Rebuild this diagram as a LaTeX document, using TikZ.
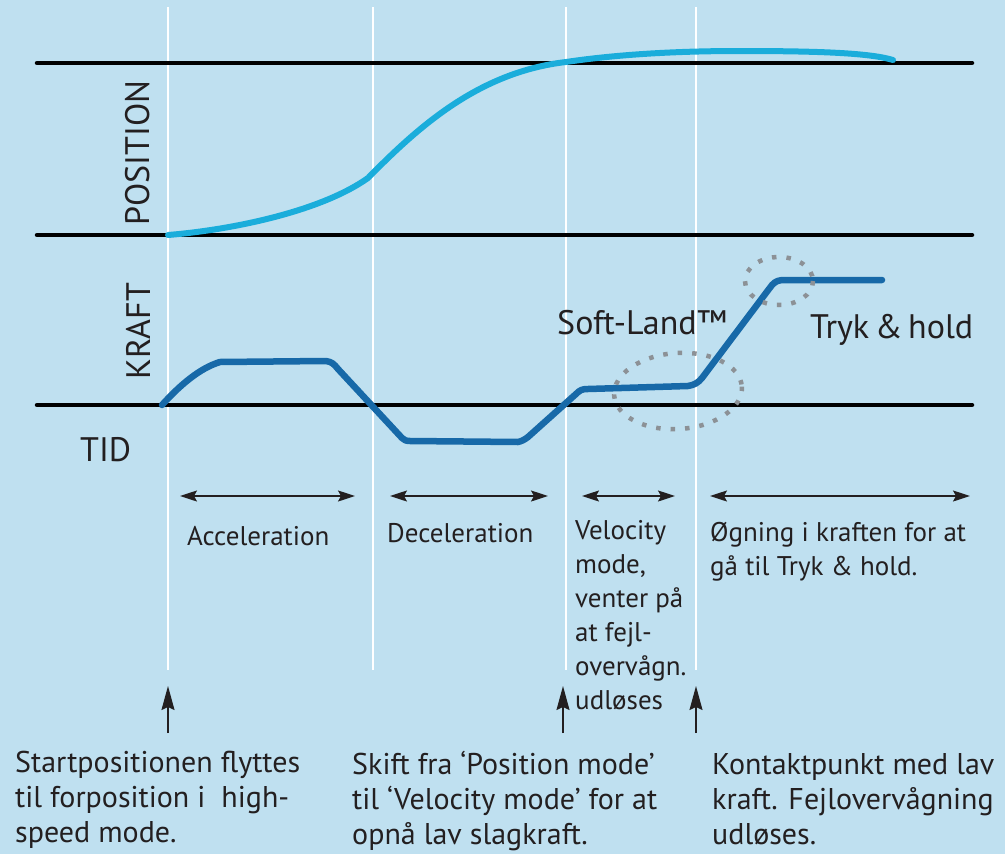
\documentclass[tikz,border=0pt]{standalone}
\usepackage{fontspec}
\setmainfont{PT Sans}
\usetikzlibrary{arrows.meta}

\definecolor{bg}{HTML}{BFE0F0}
\definecolor{poscurve}{HTML}{1AADDB}
\definecolor{forcecurve}{HTML}{1769A8}
\definecolor{ink}{HTML}{231F20}
\definecolor{ringgray}{HTML}{8C9196}

\tikzset{
  axisline/.style={line width=4.5pt, black, line cap=round},
  guide/.style={line width=1.8pt, white},
  poscurvestyle/.style={line width=6pt, poscurve, line cap=round, line join=round},
  forcecurvestyle/.style={line width=6.5pt, forcecurve, line cap=round, line join=round},
  ring/.style={line width=4.5pt, ringgray, dash pattern=on 4.5pt off 10pt},
  span/.style={line width=1.5pt, ink, {Stealth[length=17pt,width=11pt,inset=3pt]}-{Stealth[length=17pt,width=11pt,inset=3pt]}},
  uparrow/.style={line width=1.5pt, ink, -{Stealth[length=24pt,width=13pt,inset=3pt]}},
  biglabel/.style={inner sep=0pt, text=ink, font=\fontsize{34}{40}\selectfont},
  phase/.style={inner sep=0pt, text=ink, align=left, font=\fontsize{27}{34}\selectfont},
  note/.style={inner sep=0pt, text=ink, align=left, font=\fontsize{30}{35}\selectfont},
}

\begin{document}
\begin{tikzpicture}[x=1pt, y=-1pt]
  % background
  \fill[bg] (0,0) rectangle (1005,854);
  \useasboundingbox (0,0) rectangle (1005,854);

  % vertical time markers
  \foreach \gx in {168, 373, 566, 696} {
    \draw[guide] (\gx,7) -- (\gx,670);
  }

  % axes
  \draw[axisline] (37,63) -- (972,63);
  \draw[axisline] (37,235) -- (972,235);
  \draw[axisline] (37,405) -- (972,405);

  % position curve
  \draw[poscurvestyle] (168,235)
    .. controls (230,230) and (320,212) .. (368,178)
    .. controls (420,125) and (480,72) .. (566,62)
    .. controls (620,54) and (680,51) .. (740,51)
    .. controls (820,51) and (870,53) .. (893,60);

  % force curve
  \draw[forcecurvestyle] (162,405)
    .. controls (180,385) and (200,368) .. (220,362)
    -- (326,361)
    .. controls (332,362) and (334,364) .. (338,369)
    -- (402,438)
    .. controls (404,440) and (406,441) .. (410,441)
    -- (518,442)
    .. controls (522,441) and (524,440) .. (528,437)
    -- (576,394)
    .. controls (580,390) and (582,389) .. (588,389)
    -- (688,386)
    .. controls (694,385) and (698,383) .. (702,378)
    -- (772,285)
    .. controls (776,281) and (778,280) .. (786,280)
    -- (882,280);

  % highlighted regions
  \draw[ring, rotate around={4:(678,391)}] (678,391) ellipse [x radius=64, y radius=38];
  \draw[ring] (779,281) ellipse [x radius=34, y radius=24];

  % axis labels
  \node[biglabel, rotate=90] (lblpos) at (138,153) {POSITION};
  \node[biglabel, rotate=90] (lblkraft) at (138,331) {KRAFT};
  \node[biglabel, anchor=base west] (lbltid) at (80,461) {TID};
  \node[biglabel, anchor=base west] (lblsoft) at (557,334) {Soft-Land™};
  \node[biglabel, anchor=base west] (lbltryk) at (810,338) {Tryk\,\&\,hold};

  % phase spans
  \coordinate (s1a) at (180,496); \coordinate (s1b) at (355,496);
  \coordinate (s2a) at (390,496); \coordinate (s2b) at (548,496);
  \coordinate (s3a) at (582,496); \coordinate (s3b) at (675,496);
  \coordinate (s4a) at (710,496); \coordinate (s4b) at (970,496);
  \draw[span] (s1a) -- (s1b);
  \draw[span] (s2a) -- (s2b);
  \draw[span] (s3a) -- (s3b);
  \draw[span] (s4a) -- (s4b);

  % phase descriptions
  \node[phase, anchor=north west] (ph1) at (187,526) {Acceleration};
  \node[phase, anchor=north west] (ph2) at (387,523) {Deceleration};
  \node[phase, anchor=north west] (ph3) at (575,520) {Velocity\\mode,\\venter på\\at fejl-\\overvågn.\\udløses};
  \node[phase, anchor=north west] (ph4) at (710,522) {Øgning i kraften for at\\gå til Tryk \& hold.};

  % event arrows
  \coordinate (e1) at (168,733); \coordinate (e1t) at (168,686);
  \coordinate (e2) at (563,733); \coordinate (e2t) at (563,686);
  \coordinate (e3) at (696,733); \coordinate (e3t) at (696,686);
  \draw[uparrow] (e1) -- (e1t);
  \draw[uparrow] (e2) -- (e2t);
  \draw[uparrow] (e3) -- (e3t);

  % event notes
  \node[note, anchor=north west] (n1) at (15,751) {Startpositionen flyttes\\til forposition i~ high-\\speed mode.};
  \node[note, anchor=north west] (n2) at (352,751) {Skift fra ‘Position mode’\\til ‘Velocity mode’ for at\\opnå lav slagkraft.};
  \node[note, anchor=north west] (n3) at (712,753) {Kontaktpunkt med lav\\kraft. Fejlovervågning\\udløses.};
\end{tikzpicture}
\end{document}
